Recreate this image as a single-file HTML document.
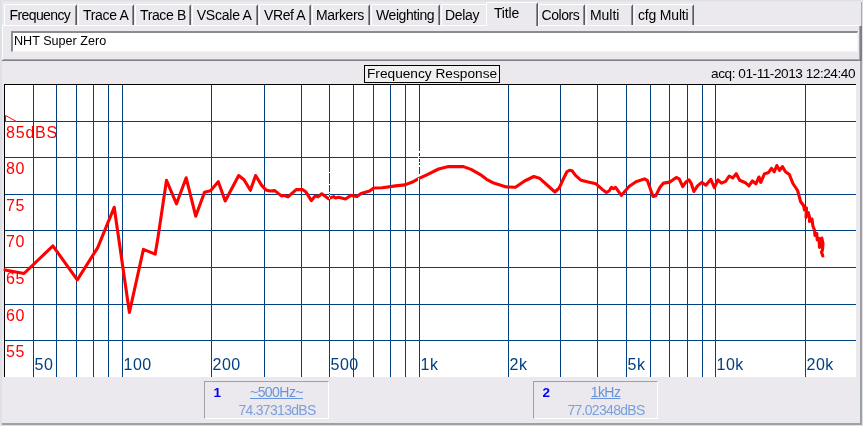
<!DOCTYPE html>
<html><head><meta charset="utf-8"><title>Frequency Response</title>
<style>
html,body{margin:0;padding:0;}
body{width:863px;height:426px;overflow:hidden;background:#dde1e6;font-family:"Liberation Sans",Arial,sans-serif;position:relative;}
div,span{position:absolute;box-sizing:border-box;white-space:nowrap;}
.panel{background:#ebe9ed;border-left:1px solid #fff;border-top:1px solid #fff;border-right:1px solid #a0a0a0;border-bottom:1px solid #a0a0a0;}
.tab{background:#ebe9ed;top:4px;height:21px;border-left:1px solid #fff;border-top:1px solid #fff;border-right:1px solid #5a5a5e;border-radius:2px 2px 0 0;}
.tab i{position:absolute;right:0;top:1px;bottom:0;width:1px;background:#8e8e92;}
.tab b{position:absolute;font-weight:normal;font-size:14px;letter-spacing:-0.55px;line-height:15px;top:3px;color:#000;}
.tab.sel{top:2px;height:24px;z-index:3;}
.tab.sel b{top:3px;}
.t{font-size:13px;line-height:15px;color:#000;}
.xl{font-size:16px;line-height:16px;color:#004080;letter-spacing:0.5px;}
.yl{font-size:16px;line-height:16px;color:#ff0000;letter-spacing:0.5px;}
.mk{background:#ebe9ed;border-left:1px solid #a0a0a0;border-top:1px solid #a0a0a0;border-right:1px solid #fff;border-bottom:1px solid #fff;}
.mk span{font-size:13px;line-height:15px;}
</style></head><body>

<div style="left:2px;top:1px;width:860px;height:1px;background:#e6e6eb"></div>
<div style="left:2px;top:2px;width:860px;height:423px;background:#ebe9ed"></div>
<div style="left:861px;top:2px;width:1px;height:24px;background:#a8a8ac"></div>
<div style="left:860px;top:26px;width:2px;height:35px;background:#808084"></div>
<div style="left:860px;top:61px;width:2px;height:364px;background:#a0a0a4"></div>
<div style="left:2px;top:25px;width:858px;height:1px;background:#fff"></div>
<div style="left:2px;top:25px;width:1px;height:34px;background:#fff"></div>
<div style="left:859px;top:26px;width:1px;height:34px;background:#a8a8ac"></div>
<div style="left:3px;top:59px;width:857px;height:1px;background:#a8a8ac"></div>
<div style="left:2px;top:60px;width:860px;height:1px;background:#808084"></div>
<div class="tab" style="left:4px;width:73px;"><i></i><b style="left:4.5px;letter-spacing:-0.60px">Frequency</b></div>
<div class="tab" style="left:78px;width:56px;"><i></i><b style="left:4.0px;letter-spacing:-0.30px">Trace A</b></div>
<div class="tab" style="left:135px;width:56px;"><i></i><b style="left:4.0px;letter-spacing:-0.38px">Trace B</b></div>
<div class="tab" style="left:192px;width:66px;"><i></i><b style="left:3.7px;letter-spacing:-0.22px">VScale A</b></div>
<div class="tab" style="left:259px;width:52px;"><i></i><b style="left:4.0px;letter-spacing:-0.41px">VRef A</b></div>
<div class="tab" style="left:312px;width:58px;"><i></i><b style="left:3.0px;letter-spacing:-0.38px">Markers</b></div>
<div class="tab" style="left:371px;width:69px;"><i></i><b style="left:4.0px;letter-spacing:-0.42px">Weighting</b></div>
<div class="tab" style="left:441px;width:47px;"><i></i><b style="left:3.0px;letter-spacing:-0.30px">Delay</b></div>
<div class="tab" style="left:538px;width:47px;"><i></i><b style="left:2.5px;letter-spacing:-0.45px">Colors</b></div>
<div class="tab" style="left:586px;width:47px;"><i></i><b style="left:3.0px;letter-spacing:-0.05px">Multi</b></div>
<div class="tab" style="left:634px;width:60px;"><i></i><b style="left:3.0px;letter-spacing:-0.18px">cfg Multi</b></div>
<div class="tab sel" style="left:486px;width:52px;"><i></i><b style="left:7px;letter-spacing:-0.18px">Title</b></div>
<div style="left:11px;top:31px;width:847px;height:21px;background:#fff;border-left:2px solid #8c8c8c;border-top:2px solid #8c8c8c;border-right:1px solid #f4f4f4;border-bottom:1px solid #f4f4f4;"><span class="t" style="left:1px;top:1.2px;font-size:12.6px">NHT Super Zero</span></div>
<div style="left:2px;top:423px;width:860px;height:2px;background:#a0a0a4"></div>
<div style="left:364px;top:65px;width:136px;height:18px;border:1px solid #000;background:#f0f0f0;"><span class="t" style="left:2px;top:0px;font-size:13.7px">Frequency Response</span></div>
<span class="t" style="right:8px;top:66px;font-size:13.6px;letter-spacing:-0.45px">acq: 01-11-2013 12:24:40</span>
<svg width="863" height="426" viewBox="0 0 863 426" style="position:absolute;left:0;top:0;">
<rect x="4" y="84" width="852" height="293" fill="#fff"/>
<g fill="#004080" shape-rendering="crispEdges">
<rect x="33" y="85" width="1" height="292"/>
<rect x="56" y="85" width="1" height="292"/>
<rect x="76" y="85" width="1" height="292"/>
<rect x="93" y="85" width="1" height="292"/>
<rect x="108" y="85" width="1" height="292"/>
<rect x="122" y="85" width="1" height="292"/>
<rect x="211" y="85" width="1" height="292"/>
<rect x="264" y="85" width="1" height="292"/>
<rect x="301" y="85" width="1" height="292"/>
<rect x="329" y="85" width="1" height="292"/>
<rect x="353" y="85" width="1" height="292"/>
<rect x="373" y="85" width="1" height="292"/>
<rect x="390" y="85" width="1" height="292"/>
<rect x="405" y="85" width="1" height="292"/>
<rect x="419" y="85" width="1" height="292"/>
<rect x="508" y="85" width="1" height="292"/>
<rect x="560" y="85" width="1" height="292"/>
<rect x="597" y="85" width="1" height="292"/>
<rect x="626" y="85" width="1" height="292"/>
<rect x="650" y="85" width="1" height="292"/>
<rect x="669" y="85" width="1" height="292"/>
<rect x="687" y="85" width="1" height="292"/>
<rect x="702" y="85" width="1" height="292"/>
<rect x="715" y="85" width="1" height="292"/>
<rect x="805" y="85" width="1" height="292"/>
<rect x="5" y="121" width="851" height="1"/>
<rect x="5" y="157" width="851" height="1"/>
<rect x="5" y="194" width="851" height="1"/>
<rect x="5" y="230" width="851" height="1"/>
<rect x="5" y="267" width="851" height="1"/>
<rect x="5" y="304" width="851" height="1"/>
<rect x="5" y="340" width="851" height="1"/>
</g>
<g fill="#000" shape-rendering="crispEdges"><rect x="4" y="84" width="852" height="1"/><rect x="4" y="84" width="1" height="293"/></g>
<g fill="#fff" shape-rendering="crispEdges"><rect x="329" y="172" width="1" height="1"/><rect x="329" y="184" width="1" height="1"/><rect x="329" y="192" width="1" height="1"/><rect x="329" y="194" width="1" height="1"/><rect x="419" y="151" width="1" height="2"/><rect x="419" y="156" width="1" height="1"/><rect x="419" y="158" width="1" height="1"/><rect x="418" y="157" width="1" height="1"/><rect x="419" y="162" width="1" height="1"/><rect x="419" y="165" width="1" height="2"/><rect x="419" y="174" width="1" height="4"/></g>
<path d="M5.5 115.5 L16.5 121.5 L5.5 121.5 Z" fill="none" stroke="#ff0000" stroke-width="1"/>
<path d="M5.0 269.9 L24.0 273.5 L52.9 245.9 L77.3 279.8 L97.6 247.8 L114.2 207.3 L129.4 312.5 L143.4 249.4 L155.2 254.1 L158.2 236.0 L166.5 180.3 L176.5 203.8 L186.2 177.8 L195.7 216.2 L204.5 192.2 L210.5 190.8 L218.3 181.7 L225.2 201.0 L238.7 175.6 L244.0 179.7 L250.4 190.3 L255.6 175.5 L261.7 185.4 L265.9 189.9 L270.1 191.0 L274.8 190.6 L281.4 195.9 L284.2 195.5 L288.0 196.9 L296.2 189.6 L302.5 189.6 L306.0 192.1 L311.4 200.6 L315.2 195.9 L318.0 196.9 L321.8 193.8 L328.6 198.7 L333.5 196.6 L335.6 198.0 L338.5 197.3 L345.5 199.0 L350.6 195.4 L356.9 196.5 L361.1 193.4 L369.6 191.1 L373.8 188.0 L382.3 187.7 L395.6 185.9 L404.8 184.9 L413.2 181.7 L419.6 178.2 L427.3 174.6 L438.6 169.0 L448.5 166.6 L463.4 166.6 L471.1 169.4 L480.3 174.6 L486.6 179.3 L493.7 183.1 L506.3 186.9 L515.5 187.3 L524.6 181.0 L533.8 176.5 L539.4 178.2 L554.9 192.0 L559.2 188.0 L562.7 180.3 L566.9 171.8 L569.5 170.2 L572.0 170.8 L575.5 175.4 L581.1 180.3 L588.2 182.1 L595.9 183.8 L602.3 189.4 L606.5 192.5 L609.3 190.8 L611.4 187.3 L613.5 188.7 L615.6 187.3 L621.3 195.4 L629.0 186.6 L636.0 181.7 L644.5 178.9 L647.3 180.3 L653.0 196.5 L655.8 195.8 L660.0 187.3 L663.5 183.1 L669.9 182.1 L676.3 177.5 L679.2 178.9 L682.7 186.6 L686.2 181.7 L689.0 179.9 L691.1 183.1 L693.9 191.5 L697.5 185.9 L701.7 182.4 L705.9 185.2 L710.8 179.3 L714.4 187.7 L717.9 179.9 L721.4 183.1 L725.6 181.3 L729.2 176.0 L732.7 177.9 L736.2 173.7 L739.7 180.3 L745.4 182.7 L748.9 185.9 L752.4 181.0 L755.9 183.8 L759.0 177.0 L760.8 182.4 L764.4 173.9 L768.6 172.5 L771.4 168.3 L774.2 171.8 L776.8 165.5 L779.6 170.4 L782.4 166.6 L785.5 171.8 L789.4 174.6 L792.9 183.5 L797.6 190.5 L800.7 201.8 L803.5 205.5 L804.5 210.0 L806.5 208.0 L806.0 217.5 L808.2 212.5 L809.5 217.0 L809.5 221.5 L812.0 219.0 L812.9 226.0 L814.5 230.0 L815.0 235.5 L816.8 233.5 L817.2 240.0 L819.0 238.5 L819.5 247.5 L821.0 243.0 L821.8 238.0 L823.0 243.0 L822.5 250.0 L821.5 252.0 L822.8 256.0" fill="none" stroke="#ff0000" stroke-width="3.1" stroke-linejoin="round" stroke-linecap="round"/>
<g fill="#fff" shape-rendering="crispEdges"><rect x="329" y="197" width="1" height="2"/><rect x="418" y="178" width="1" height="3"/></g>
</svg>
<span class="yl" style="left:6px;top:125px;letter-spacing:0.8px">85dBS</span>
<span class="yl" style="left:6px;top:161px">80</span>
<span class="yl" style="left:6px;top:198px">75</span>
<span class="yl" style="left:6px;top:234px">70</span>
<span class="yl" style="left:6px;top:271px">65</span>
<span class="yl" style="left:6px;top:308px">60</span>
<span class="yl" style="left:6px;top:344px">55</span>
<span class="xl" style="left:34.5px;top:357px">50</span>
<span class="xl" style="left:123.5px;top:357px">100</span>
<span class="xl" style="left:212.5px;top:357px">200</span>
<span class="xl" style="left:330.5px;top:357px">500</span>
<span class="xl" style="left:420.5px;top:357px">1k</span>
<span class="xl" style="left:509.5px;top:357px">2k</span>
<span class="xl" style="left:627.5px;top:357px">5k</span>
<span class="xl" style="left:716.5px;top:357px">10k</span>
<span class="xl" style="left:806.5px;top:357px">20k</span>
<div class="mk" style="left:204px;top:381px;width:125px;height:38px;"><span style="left:8.5px;top:3.4px;font-weight:bold;color:#0000f0;font-size:13.5px">1</span><span style="left:20.5px;width:102px;text-align:center;top:3px;color:#6793dc;text-decoration:underline;font-size:14px;letter-spacing:-0.55px">~500Hz~</span><span style="left:21px;width:102px;text-align:center;top:21px;color:#7a9fdc;font-size:14px;letter-spacing:-0.7px">74.37313dBS</span></div>
<div class="mk" style="left:533px;top:381px;width:125px;height:38px;"><span style="left:8.5px;top:3.4px;font-weight:bold;color:#0000f0;font-size:13.5px">2</span><span style="left:20.5px;width:102px;text-align:center;top:3px;color:#6793dc;text-decoration:underline;font-size:14px;letter-spacing:-0.55px">1kHz</span><span style="left:21px;width:102px;text-align:center;top:21px;color:#7a9fdc;font-size:14px;letter-spacing:-0.7px">77.02348dBS</span></div>
</body></html>
